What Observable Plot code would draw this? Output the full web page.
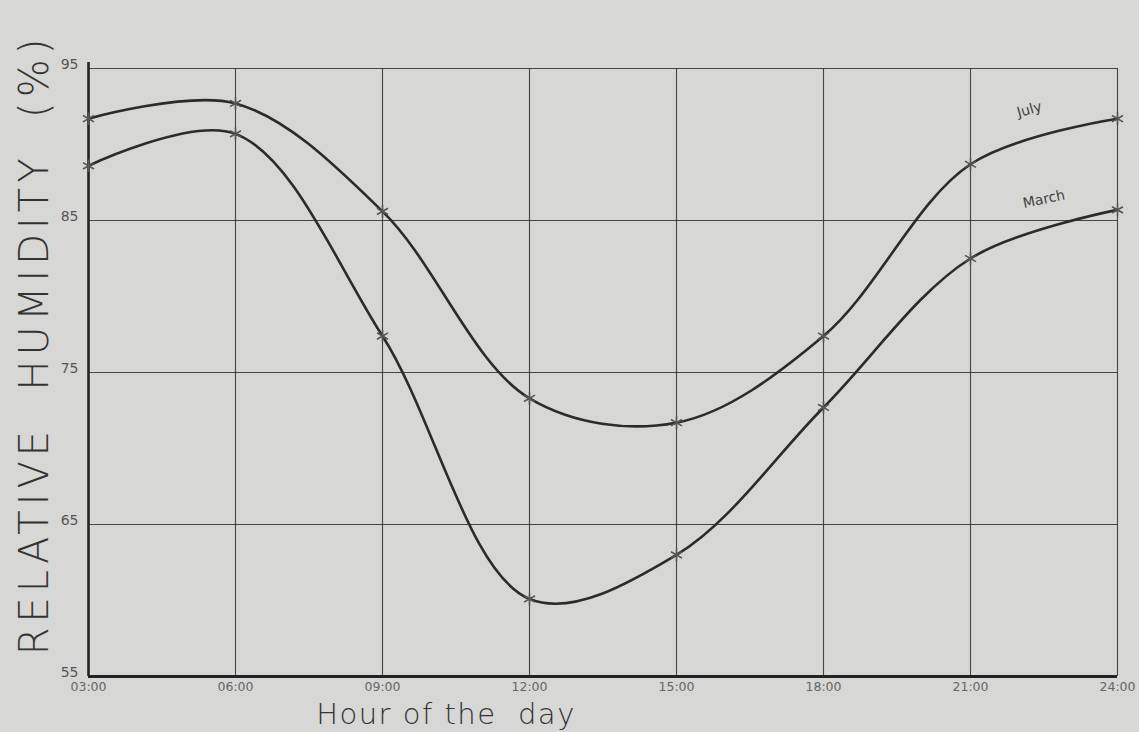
<!DOCTYPE html>
<html>
<head>
<meta charset="utf-8">
<script src="https://cdn.jsdelivr.net/npm/d3@7"></script>
<script src="https://cdn.jsdelivr.net/npm/@observablehq/plot@0.6"></script>
<style>
  html, body { margin: 0; padding: 0; background: #d7d7d5; }
  #chart svg { display: block; }
</style>
</head>
<body>
<div id="chart"></div>
<script>
const hours = [3, 6, 9, 12, 15, 18, 21, 24];
const hourLabels = ["03:00", "06:00", "09:00", "12:00", "15:00", "18:00", "21:00", "24:00"];
const july = [91.7, 92.7, 85.6, 73.3, 71.7, 77.4, 88.7, 91.7];
const march = [88.6, 90.7, 77.4, 60.1, 63.0, 72.7, 82.5, 85.7];
const humidityTicks = [55, 65, 75, 85, 95];
const seriesLabels = [
  {name: "July", hour: 22.2, value: 92.3, angle: -16},
  {name: "March", hour: 22.5, value: 86.4, angle: -12}
];

const rows = [
  ...hours.map((h, i) => ({hour: h, value: july[i], series: "July"})),
  ...hours.map((h, i) => ({hour: h, value: march[i], series: "March"}))
];

const ink = "#2b2b2b";
const chart = Plot.plot({
  width: 1139,
  height: 732,
  marginLeft: 88,
  marginRight: 22,
  marginTop: 68,
  marginBottom: 56,
  style: {background: "#d7d7d5", fontFamily: "DejaVu Sans, sans-serif"},
  x: {domain: [3, 24], ticks: hours, tickFormat: (d) => hourLabels[hours.indexOf(d)]},
  y: {domain: [55, 95], ticks: humidityTicks},
  marks: [
    Plot.gridX(hours, {stroke: ink, strokeOpacity: 0.85, strokeWidth: 1.1}),
    Plot.gridY(humidityTicks, {stroke: ink, strokeOpacity: 0.85, strokeWidth: 1.1}),
    Plot.axisX({ticks: hours, tickSize: 0, tickPadding: 6, fontSize: 12.5, fill: "#666", label: null,
      tickFormat: (d) => hourLabels[hours.indexOf(d)]}),
    Plot.axisY({ticks: humidityTicks, tickSize: 0, tickPadding: 10, dy: -4, fontSize: 14, fill: "#555", label: null}),
    Plot.ruleX([3], {y1: 55, y2: 95.4, stroke: "#222", strokeWidth: 2.6}),
    Plot.ruleY([55], {stroke: "#222", strokeWidth: 3}),
    Plot.line(rows, {x: "hour", y: "value", z: "series", curve: "catmull-rom", stroke: ink, strokeWidth: 2.6}),
    Plot.dot(rows, {x: "hour", y: "value", symbol: "asterisk", r: 6, stroke: "#555", strokeWidth: 1.6}),
    Plot.text(seriesLabels, {x: "hour", y: "value", text: "name", rotate: "angle", fontSize: 14, fill: "#444"}),
    Plot.text(["RELATIVE  HUMIDITY  (%)"], {frameAnchor: "left", rotate: -90, textAnchor: "middle", lineAnchor: "middle",
      dx: -53, dy: -28, fontSize: 40, fontWeight: 300, fill: "#333", className: "ylab"}),
    Plot.text(["Hour of the  day"], {frameAnchor: "bottom", textAnchor: "middle", lineAnchor: "middle",
      dx: -157, dy: 38, fontSize: 29, fontWeight: 300, fill: "#333", className: "xlab"})
  ]
});
d3.select(chart).selectAll(".ylab text").style("letter-spacing", "5px");
d3.select(chart).selectAll(".xlab text").style("letter-spacing", "1.5px");
document.getElementById("chart").append(chart);
</script>
</body>
</html>
